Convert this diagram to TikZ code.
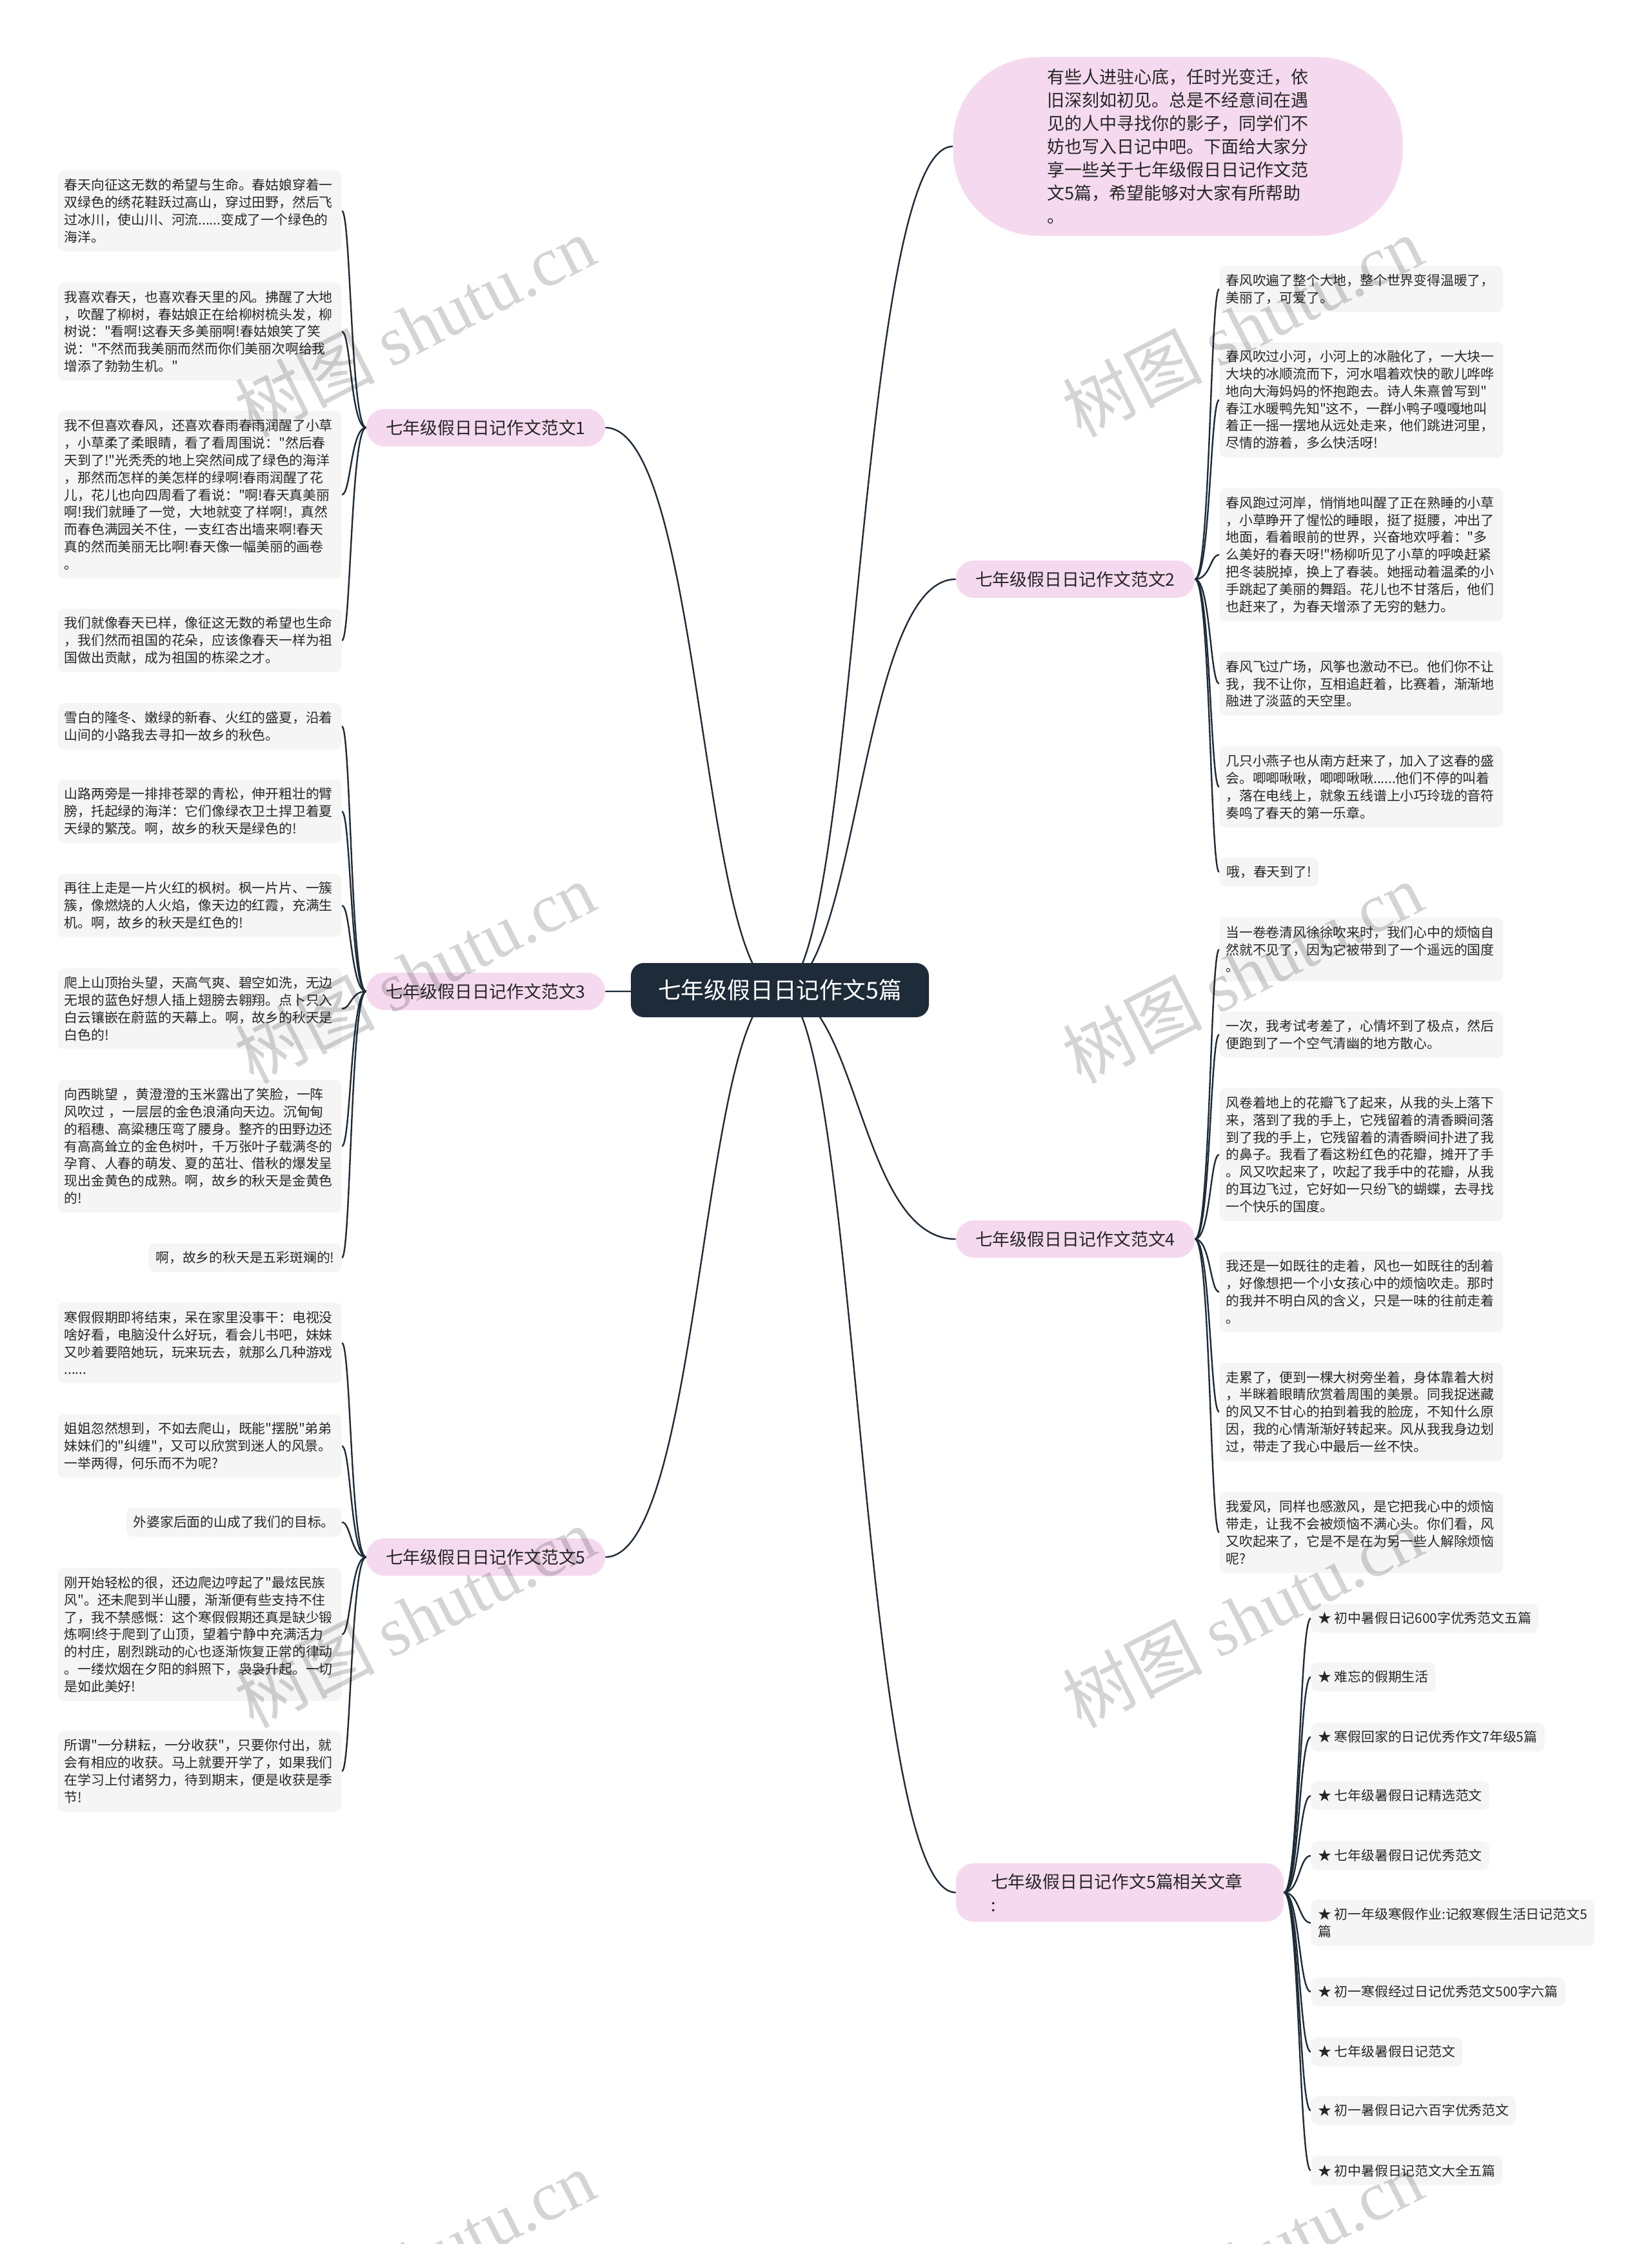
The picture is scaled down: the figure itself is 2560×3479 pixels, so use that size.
\documentclass[tikz,border=0pt]{standalone}
\usepackage{fontspec}
\setmainfont{Noto Sans CJK SC}[Ligatures=TeXOff]
\newfontfamily\markfont{Liberation Serif}
\usepackage{tikz}
\usetikzlibrary{backgrounds}
\definecolor{mmnavy}{HTML}{1E2B38}
\definecolor{mmpink}{HTML}{F5DAEF}
\definecolor{mmleaf}{HTML}{F5F5F5}
\definecolor{mmtext}{HTML}{262626}
\newcommand\leaffont{\fontsize{10.4}{13.4}\selectfont}
\tikzset{
  hub/.style={rectangle, rounded corners=10pt, fill=mmnavy, text=white, minimum width=231pt,
    minimum height=42pt, font=\fontsize{17.9}{20}\selectfont},
  intro/.style={rectangle, rounded corners=66pt, fill=mmpink, text=mmtext, minimum width=348.5pt,
    minimum height=138.5pt, align=left, font=\fontsize{13.5}{18}\selectfont},
  branch/.style={rectangle, rounded corners=14pt, fill=mmpink, text=mmtext, minimum width=185pt,
    minimum height=29pt, font=\fontsize{13.4}{18}\selectfont},
  leaf/.style={rectangle, rounded corners=5pt, fill=mmleaf, text=mmtext, text width=210pt,
    inner xsep=5pt, inner ysep=2pt, align=left, font=\leaffont},
  shortleaf/.style={rectangle, rounded corners=5pt, fill=mmleaf, text=mmtext, inner xsep=5.5pt,
    inner ysep=2pt, minimum height=22.4pt, align=left, font=\leaffont},
  refitem/.style={shortleaf, anchor=west},
  link/.style={line width=1.2pt, mmnavy},
  wmark/.style={text=black, text opacity=0.17, rotate=27, font=\fontsize{54}{54}\selectfont},
}
\begin{document}
\begin{tikzpicture}[x=0.5pt, y=-0.5pt]
    \useasboundingbox (0,0) rectangle (2560,3479);
    \node[hub] (hub) at (1209,1535) {七年级假日日记作文5篇};
    \node[intro] (intro) at (1826,227) {有些人进驻心底，任时光变迁，依\\旧深刻如初见。总是不经意间在遇\\见的人中寻找你的影子，同学们不\\妨也写入日记中吧。下面给大家分\\享一些关于七年级假日日记作文范\\文5篇，希望能够对大家有所帮助\\。};
    \node[branch] (b1) at (753,663) {七年级假日日记作文范文1};
    \node[branch] (b3) at (753,1537) {七年级假日日记作文范文3};
    \node[branch] (b5) at (753,2414) {七年级假日日记作文范文5};
    \node[branch] (b2) at (1667,898) {七年级假日日记作文范文2};
    \node[branch] (b4) at (1667,1921) {七年级假日日记作文范文4};
    \node[branch, minimum width=254pt, minimum height=45.5pt, text width=200pt, align=left] (b6) at (1736,2934) {七年级假日日记作文5篇相关文章\\:};

    \node[leaf, anchor=east, minimum height=62.6pt] (l1a) at (530,327) {春天向征这无数的希望与生命。春姑娘穿着一\\双绿色的绣花鞋跃过高山，穿过田野，然后飞\\过冰川，使山川、河流......变成了一个绿色的\\海洋。};
    \node[leaf, anchor=east, minimum height=76pt] (l1b) at (530,514) {我喜欢春天，也喜欢春天里的风。拂醒了大地\\，吹醒了柳树，春姑娘正在给柳树梳头发，柳\\树说："看啊!这春天多美丽啊!春姑娘笑了笑\\说："不然而我美丽而然而你们美丽次啊给我\\增添了勃勃生机。"};
    \node[leaf, anchor=east, minimum height=129.6pt] (l1c) at (530,767) {我不但喜欢春风，还喜欢春雨春雨润醒了小草\\，小草柔了柔眼睛，看了看周围说："然后春\\天到了!"光秃秃的地上突然间成了绿色的海洋\\，那然而怎样的美怎样的绿啊!春雨润醒了花\\儿，花儿也向四周看了看说："啊!春天真美丽\\啊!我们就睡了一觉，大地就变了样啊!，真然\\而春色满园关不住，一支红杏出墙来啊!春天\\真的然而美丽无比啊!春天像一幅美丽的画卷\\。};
    \node[leaf, anchor=east, minimum height=49.2pt] (l1d) at (530,993) {我们就像春天已样，像征这无数的希望也生命\\，我们然而祖国的花朵，应该像春天一样为祖\\国做出贡献，成为祖国的栋梁之才。};

    \node[leaf, anchor=east, minimum height=35.8pt] (l3a) at (530,1126) {雪白的隆冬、嫩绿的新春、火红的盛夏，沿着\\山间的小路我去寻扣一故乡的秋色。};
    \node[leaf, anchor=east, minimum height=49.2pt] (l3b) at (530,1258) {山路两旁是一排排苍翠的青松，伸开粗壮的臂\\膀，托起绿的海洋：它们像绿衣卫土捍卫着夏\\天绿的繁茂。啊，故乡的秋天是绿色的!};
    \node[leaf, anchor=east, minimum height=49.2pt] (l3c) at (530,1404) {再往上走是一片火红的枫树。枫一片片、一簇\\簇，像燃烧的人火焰，像天边的红霞，充满生\\机。啊，故乡的秋天是红色的!};
    \node[leaf, anchor=east, minimum height=62.6pt] (l3d) at (530,1564) {爬上山顶抬头望，天高气爽、碧空如洗，无边\\无垠的蓝色好想人插上翅膀去翱翔。点卜只入\\白云镶嵌在蔚蓝的天幕上。啊，故乡的秋天是\\白色的!};
    \node[leaf, anchor=east, minimum height=102.8pt] (l3e) at (530,1777) {向西眺望 ，黄澄澄的玉米露出了笑脸，一阵\\风吹过 ，一层层的金色浪涌向天边。沉甸甸\\的稻穗、高粱穗压弯了腰身。整齐的田野边还\\有高高耸立的金色树叶，千万张叶子载满冬的\\孕育、人春的萌发、夏的茁壮、借秋的爆发呈\\现出金黄色的成熟。啊，故乡的秋天是金黄色\\的!};
    \node[shortleaf, anchor=east] (l3f) at (530,1950) {啊，故乡的秋天是五彩斑斓的!};

    \node[leaf, anchor=east, minimum height=62.6pt] (l5a) at (530,2082) {寒假假期即将结束，呆在家里没事干：电视没\\啥好看，电脑没什么好玩，看会儿书吧，妹妹\\又吵着要陪她玩，玩来玩去，就那么几种游戏\\......};
    \node[leaf, anchor=east, minimum height=49.2pt] (l5b) at (530,2242) {姐姐忽然想到，不如去爬山，既能"摆脱"弟弟\\妹妹们的"纠缠"，又可以欣赏到迷人的风景。\\一举两得，何乐而不为呢?};
    \node[shortleaf, anchor=east] (l5c) at (530,2360) {外婆家后面的山成了我们的目标。};
    \node[leaf, anchor=east, minimum height=102.8pt] (l5d) at (530,2534) {刚开始轻松的很，还边爬边哼起了"最炫民族\\风"。还未爬到半山腰，渐渐便有些支持不住\\了，我不禁感慨：这个寒假假期还真是缺少锻\\炼啊!终于爬到了山顶，望着宁静中充满活力\\的村庄，剧烈跳动的心也逐渐恢复正常的律动\\。一缕炊烟在夕阳的斜照下，袅袅升起。一切\\是如此美好!};
    \node[leaf, anchor=east, minimum height=62.6pt] (l5e) at (530,2746) {所谓"一分耕耘，一分收获"，只要你付出，就\\会有相应的收获。马上就要开学了，如果我们\\在学习上付诸努力，待到期末，便是收获是季\\节!};

    \node[leaf, anchor=west, minimum height=35.8pt] (r2a) at (1890,448) {春风吹遍了整个大地，整个世界变得温暖了，\\美丽了，可爱了。};
    \node[leaf, anchor=west, minimum height=89.4pt] (r2b) at (1890,620) {春风吹过小河，小河上的冰融化了，一大块一\\大块的冰顺流而下，河水唱着欢快的歌儿哗哗\\地向大海妈妈的怀抱跑去。诗人朱熹曾写到"\\春江水暖鸭先知"这不，一群小鸭子嘎嘎地叫\\着正一摇一摆地从远处走来，他们跳进河里，\\尽情的游着，多么快活呀!};
    \node[leaf, anchor=west, minimum height=102.8pt] (r2c) at (1890,860) {春风跑过河岸，悄悄地叫醒了正在熟睡的小草\\，小草睁开了惺忪的睡眼，挺了挺腰，冲出了\\地面，看着眼前的世界，兴奋地欢呼着："多\\么美好的春天呀!"杨柳听见了小草的呼唤赶紧\\把冬装脱掉，换上了春装。她摇动着温柔的小\\手跳起了美丽的舞蹈。花儿也不甘落后，他们\\也赶来了，为春天增添了无穷的魅力。};
    \node[leaf, anchor=west, minimum height=49.2pt] (r2d) at (1890,1060) {春风飞过广场，风筝也激动不已。他们你不让\\我，我不让你，互相追赶着，比赛着，渐渐地\\融进了淡蓝的天空里。};
    \node[leaf, anchor=west, minimum height=62.6pt] (r2e) at (1890,1220) {几只小燕子也从南方赶来了，加入了这春的盛\\会。唧唧啾啾，唧唧啾啾......他们不停的叫着\\，落在电线上，就象五线谱上小巧玲珑的音符\\奏鸣了春天的第一乐章。};
    \node[shortleaf, anchor=west] (r2f) at (1890,1352) {哦，春天到了!};

    \node[leaf, anchor=west, minimum height=49.2pt] (r4a) at (1890,1472) {当一卷卷清风徐徐吹来时，我们心中的烦恼自\\然就不见了，因为它被带到了一个遥远的国度\\。};
    \node[leaf, anchor=west, minimum height=35.8pt] (r4b) at (1890,1604) {一次，我考试考差了，心情坏到了极点，然后\\便跑到了一个空气清幽的地方散心。};
    \node[leaf, anchor=west, minimum height=102.8pt] (r4c) at (1890,1790) {风卷着地上的花瓣飞了起来，从我的头上落下\\来，落到了我的手上，它残留着的清香瞬间落\\到了我的手上，它残留着的清香瞬间扑进了我\\的鼻子。我看了看这粉红色的花瓣，摊开了手\\。风又吹起来了，吹起了我手中的花瓣，从我\\的耳边飞过，它好如一只纷飞的蝴蝶，去寻找\\一个快乐的国度。};
    \node[leaf, anchor=west, minimum height=62.6pt] (r4d) at (1890,2003) {我还是一如既往的走着，风也一如既往的刮着\\，好像想把一个小女孩心中的烦恼吹走。那时\\的我并不明白风的含义，只是一味的往前走着\\。};
    \node[leaf, anchor=west, minimum height=76pt] (r4e) at (1890,2189) {走累了，便到一棵大树旁坐着，身体靠着大树\\，半眯着眼睛欣赏着周围的美景。同我捉迷藏\\的风又不甘心的拍到着我的脸庞，不知什么原\\因，我的心情渐渐好转起来。风从我我身边划\\过，带走了我心中最后一丝不快。};
    \node[leaf, anchor=west, minimum height=62.6pt] (r4f) at (1890,2376) {我爱风，同样也感激风，是它把我心中的烦恼\\带走，让我不会被烦恼不满心头。你们看，风\\又吹起来了，它是不是在为另一些人解除烦恼\\呢?};

    \node[refitem] (r6a) at (2032,2509) {★ 初中暑假日记600字优秀范文五篇};
    \node[refitem] (r6b) at (2032,2600) {★ 难忘的假期生活};
    \node[refitem] (r6c) at (2032,2693) {★ 寒假回家的日记优秀作文7年级5篇};
    \node[refitem] (r6d) at (2032,2784) {★ 七年级暑假日记精选范文};
    \node[refitem] (r6e) at (2032,2877) {★ 七年级暑假日记优秀范文};
    \node[refitem, minimum height=35.8pt] (r6f) at (2032,2981) {★ 初一年级寒假作业:记叙寒假生活日记范文5\\篇};
    \node[refitem] (r6g) at (2032,3088) {★ 初一寒假经过日记优秀范文500字六篇};
    \node[refitem] (r6h) at (2032,3181) {★ 七年级暑假日记范文};
    \node[refitem] (r6i) at (2032,3272) {★ 初一暑假日记六百字优秀范文};
    \node[refitem] (r6j) at (2032,3365) {★ 初中暑假日记范文大全五篇};

    \begin{scope}[on background layer]
    \fill[white] (0,0) rectangle (2560,3479);
    \draw[link] (hub.center) .. controls +(122,0) and +(-150,0) .. (intro.west);
    \draw[link] (hub.center) .. controls +(122,0) and +(-150,0) .. (b2.west);
    \draw[link] (hub.center) .. controls +(122,0) and +(-150,0) .. (b4.west);
    \draw[link] (hub.center) .. controls +(122,0) and +(-150,0) .. (b6.west);
    \draw[link] (hub.center) .. controls +(-122,0) and +(150,0) .. (b1.east);
    \draw[link] (hub.center) .. controls +(-122,0) and +(150,0) .. (b3.east);
    \draw[link] (hub.center) .. controls +(-122,0) and +(150,0) .. (b5.east);

    \draw[link] (b1.west) .. controls +(-24,0) and +(14,0) .. (l1a.east);
    \draw[link] (b1.west) .. controls +(-24,0) and +(14,0) .. (l1b.east);
    \draw[link] (b1.west) .. controls +(-24,0) and +(14,0) .. (l1c.east);
    \draw[link] (b1.west) .. controls +(-24,0) and +(14,0) .. (l1d.east);
    \draw[link] (b3.west) .. controls +(-24,0) and +(14,0) .. (l3a.east);
    \draw[link] (b3.west) .. controls +(-24,0) and +(14,0) .. (l3b.east);
    \draw[link] (b3.west) .. controls +(-24,0) and +(14,0) .. (l3c.east);
    \draw[link] (b3.west) .. controls +(-24,0) and +(14,0) .. (l3d.east);
    \draw[link] (b3.west) .. controls +(-24,0) and +(14,0) .. (l3e.east);
    \draw[link] (b3.west) .. controls +(-24,0) and +(14,0) .. (l3f.east);
    \draw[link] (b5.west) .. controls +(-24,0) and +(14,0) .. (l5a.east);
    \draw[link] (b5.west) .. controls +(-24,0) and +(14,0) .. (l5b.east);
    \draw[link] (b5.west) .. controls +(-24,0) and +(14,0) .. (l5c.east);
    \draw[link] (b5.west) .. controls +(-24,0) and +(14,0) .. (l5d.east);
    \draw[link] (b5.west) .. controls +(-24,0) and +(14,0) .. (l5e.east);

    \draw[link] (b2.east) .. controls +(24,0) and +(-14,0) .. (r2a.west);
    \draw[link] (b2.east) .. controls +(24,0) and +(-14,0) .. (r2b.west);
    \draw[link] (b2.east) .. controls +(24,0) and +(-14,0) .. (r2c.west);
    \draw[link] (b2.east) .. controls +(24,0) and +(-14,0) .. (r2d.west);
    \draw[link] (b2.east) .. controls +(24,0) and +(-14,0) .. (r2e.west);
    \draw[link] (b2.east) .. controls +(24,0) and +(-14,0) .. (r2f.west);
    \draw[link] (b4.east) .. controls +(24,0) and +(-14,0) .. (r4a.west);
    \draw[link] (b4.east) .. controls +(24,0) and +(-14,0) .. (r4b.west);
    \draw[link] (b4.east) .. controls +(24,0) and +(-14,0) .. (r4c.west);
    \draw[link] (b4.east) .. controls +(24,0) and +(-14,0) .. (r4d.west);
    \draw[link] (b4.east) .. controls +(24,0) and +(-14,0) .. (r4e.west);
    \draw[link] (b4.east) .. controls +(24,0) and +(-14,0) .. (r4f.west);
    \draw[link] (b6.east) .. controls +(24,0) and +(-18,0) .. (r6a.west);
    \draw[link] (b6.east) .. controls +(24,0) and +(-18,0) .. (r6b.west);
    \draw[link] (b6.east) .. controls +(24,0) and +(-18,0) .. (r6c.west);
    \draw[link] (b6.east) .. controls +(24,0) and +(-18,0) .. (r6d.west);
    \draw[link] (b6.east) .. controls +(24,0) and +(-18,0) .. (r6e.west);
    \draw[link] (b6.east) .. controls +(24,0) and +(-18,0) .. (r6f.west);
    \draw[link] (b6.east) .. controls +(24,0) and +(-18,0) .. (r6g.west);
    \draw[link] (b6.east) .. controls +(24,0) and +(-18,0) .. (r6h.west);
    \draw[link] (b6.east) .. controls +(24,0) and +(-18,0) .. (r6i.west);
    \draw[link] (b6.east) .. controls +(24,0) and +(-18,0) .. (r6j.west);
    \end{scope}

    \node[wmark] (wm1) at (643,506) {树图 {\markfont shutu.cn}};
    \node[wmark] (wm2) at (1926,506) {树图 {\markfont shutu.cn}};
    \node[wmark] (wm3) at (643,1508) {树图 {\markfont shutu.cn}};
    \node[wmark] (wm4) at (1926,1508) {树图 {\markfont shutu.cn}};
    \node[wmark] (wm5) at (643,2507) {树图 {\markfont shutu.cn}};
    \node[wmark] (wm6) at (1926,2507) {树图 {\markfont shutu.cn}};
    \node[wmark] (wm7) at (643,3505) {树图 {\markfont shutu.cn}};
    \node[wmark] (wm8) at (1926,3505) {树图 {\markfont shutu.cn}};
  \end{tikzpicture}
\end{document}
